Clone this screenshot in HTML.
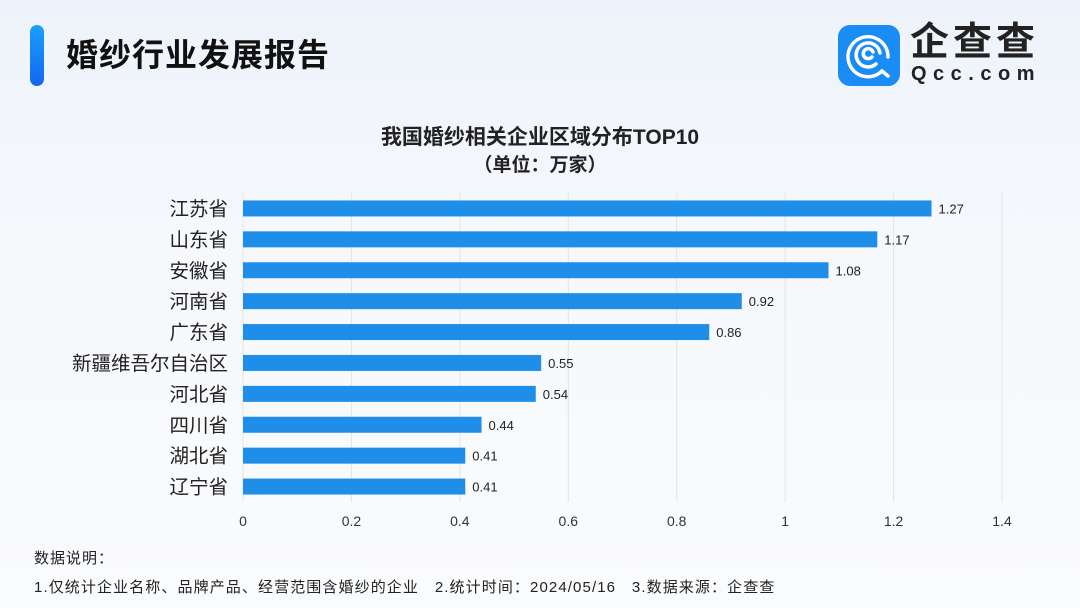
<!DOCTYPE html>
<html><head><meta charset="utf-8"><style>
body{margin:0;width:1080px;height:608px;overflow:hidden;background:linear-gradient(180deg,#eef3fb 0%,#f6f8fc 40%,#fafbfd 100%);font-family:"Liberation Sans","Noto Sans CJK SC",sans-serif;position:relative}
.a{position:absolute}
</style></head><body>
<div class="a" style="left:30px;top:25px;width:14px;height:61px;border-radius:7px;background:linear-gradient(#1aa0ff,#1466f0)"></div>
<div class="a" style="left:66px;top:30px;font-size:32px;font-weight:bold;color:#111;letter-spacing:1px">婚纱行业发展报告</div>
<div class="a" style="left:838px;top:25px;width:62px;height:61px;border-radius:12px;background:#1a8cf5">
<svg width="62" height="61" viewBox="0 0 62 61"><g fill="none" stroke="#fff" stroke-width="3.5" stroke-linecap="round"><path d="M44 46 A20 20 0 1 1 50 32"/><path d="M38 39 A12 12 0 1 1 42 28"/><path d="M34 32 A5 5 0 1 1 35 27"/><path d="M44 46 l6 5"/></g></svg></div>
<div class="a" style="left:910px;top:22px;font-size:39px;font-weight:bold;color:#222;letter-spacing:4px;line-height:42px">企查查</div>
<div class="a" style="left:911px;top:63px;font-size:20px;font-weight:bold;color:#222;letter-spacing:6.5px">Qcc.com</div>
<div class="a" style="left:0;width:1080px;top:121px;text-align:center;font-size:21px;font-weight:bold;color:#222">我国婚纱相关企业区域分布TOP10</div>
<div class="a" style="left:0;width:1080px;top:150px;text-align:center;font-size:19px;font-weight:bold;color:#222">（单位：万家）</div>
<svg class="a" style="left:0;top:0" width="1080" height="608" id="ch"></svg>
<div class="a" style="left:34px;top:547px;font-size:15px;letter-spacing:1px;color:#222">数据说明：</div>
<div class="a" style="left:34px;top:576px;font-size:15px;letter-spacing:1.1px;color:#222;white-space:nowrap">1.仅统计企业名称、品牌产品、经营范围含婚纱的企业&nbsp;&nbsp;&nbsp;2.统计时间：2024/05/16&nbsp;&nbsp;&nbsp;3.数据来源：企查查</div>
<script>
const categories=["江苏省","山东省","安徽省","河南省","广东省","新疆维吾尔自治区","河北省","四川省","湖北省","辽宁省"];
const values=[1.27,1.17,1.08,0.92,0.86,0.55,0.54,0.44,0.41,0.41];
const ticks=[0,0.2,0.4,0.6,0.8,1,1.2,1.4];
const tickLabels=["0","0.2","0.4","0.6","0.8","1","1.2","1.4"];
const svg=document.getElementById('ch');const NS="http://www.w3.org/2000/svg";
const x0=243,x1=1002,top0=193,bot=502,xmax=1.4;
const xs=v=>x0+(x1-x0)*v/xmax;
const band=(bot-top0)/categories.length;
const ys=i=>top0+band*(i+0.5);
function mk(t,a){const e=document.createElementNS(NS,t);for(const k in a)e.setAttribute(k,a[k]);svg.appendChild(e);return e;}
ticks.forEach((t,i)=>{
 const l=mk('line',{x1:xs(t),x2:xs(t),y1:top0,y2:bot,stroke:'#e2e4e8','stroke-width':1});
 
 
 const tx=mk('text',{x:xs(t),y:526,'text-anchor':'middle','font-size':14,fill:'#333'});tx.textContent=tickLabels[i];
 
 
});
categories.forEach((c,i)=>{
 const y=ys(i);
 const r=mk('rect',{x:x0,y:y-8,width:xs(values[i])-x0,height:16,fill:'#1e8ee8'});
 
 
 const lb=mk('text',{x:228,y:y+7,'text-anchor':'end','font-size':19.5,fill:'#222'});lb.textContent=c;
 
 
 const v=mk('text',{x:xs(values[i])+7,y:y+5,'font-size':13,fill:'#222'});v.textContent=values[i].toFixed(2);
 
 
});
</script>
</body></html>
